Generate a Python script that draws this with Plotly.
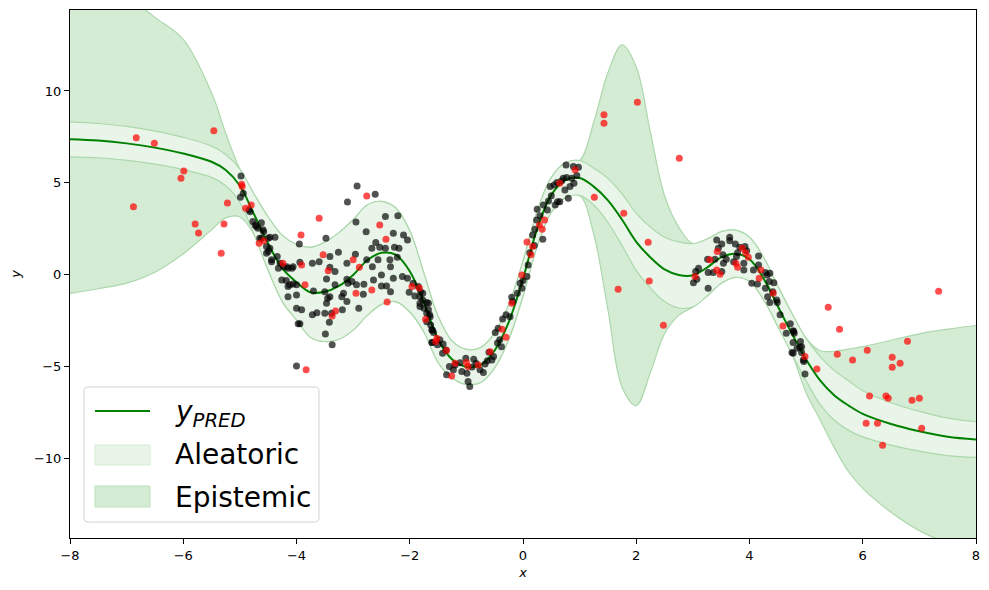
import numpy as np
import plotly.graph_objects as go

# prediction grid
x_grid = [-8, -7.5, -7, -6.5, -6, -5.5, -5.25, -5, -4.75, -4.5, -4.25, -4, -3.75, -3.5,
          -3.25, -3, -2.75, -2.5, -2.25, -2, -1.75, -1.5, -1.25, -1, -0.75, -0.5, -0.25,
          0, 0.25, 0.5, 0.75, 1, 1.25, 1.5, 1.75, 2, 2.25, 2.5, 2.75, 3, 3.25, 3.5, 3.75,
          4, 4.25, 4.5, 4.75, 5, 5.25, 5.5, 5.75, 6, 6.5, 7, 7.5, 8]
y_pred = [7.37, 7.3, 7.15, 6.92, 6.6, 6.15, 5.7, 4.85, 3.3, 1.7, 0.35, -0.4, -0.95, -0.92,
          -0.6, 0.0, 0.8, 1.2, 1.1, 0.2, -1.5, -3.5, -4.6, -5.0, -4.9, -4.1, -2.55,
          -0.2, 2.5, 4.35, 5.15, 5.27, 4.8, 4.05, 3.0, 1.8, 0.95, 0.3, 0.0, -0.02, 0.4, 0.95, 1.15,
          0.85, -0.2, -1.7, -3.2, -4.6, -5.75, -6.55, -7.1, -7.55, -8.1, -8.5, -8.8, -8.95]
# aleatoric half width
alea = [0.95, 0.93, 0.92, 0.9, 0.88, 0.85, 0.85, 0.9, 1.1, 1.45, 1.8, 2.05, 2.45, 2.7,
        2.9, 3.0, 3.0, 2.8, 2.55, 2.2, 1.6, 1.25, 1.0, 0.95, 0.95, 0.95, 0.95,
        0.95, 0.95, 0.95, 0.95, 0.95, 1.0, 1.2, 1.4, 1.55, 1.65, 1.75, 1.8, 1.72, 1.55, 1.4, 1.28,
        1.2, 1.15, 1.1, 1.1, 1.15, 1.3, 1.35, 1.35, 1.25, 1.15, 1.08, 1.02, 0.97]
# epistemic band edges (None = same as aleatoric edge)
N = None
epi_hi = [17.5, 16.4, 15.2, 14.0, 12.8, 9.9, 7.7, 5.75, N, N, N, N, N, N,
          N, N, N, N, N, N, N, N, N, N, N, N, N,
          N, N, N, N, N, 8.3, 11.0, 12.5, 11.3, 7.75, 4.3, 2.6, N, N, N, N,
          N, N, N, N, N, -4.12, -4.15, -4.03, -3.9, -3.55, -3.2, -2.95, -2.75]
epi_lo = [-1.0, -0.75, -0.45, 0.15, 1.15, 2.45, 3.1, 3.15, N, N, N, N, N, N,
          N, N, N, N, N, N, N, N, N, N, N, N, N,
          N, N, N, N, N, 2.2, -1.9, -6.1, -7.1, -5.3, -3.2, -2.2, N, N, N, N,
          N, N, N, N, -6.4, -7.9, -9.4, -10.7, -11.6, -12.9, -13.9, -14.6, -15.3]

# training points (black)
black_x = [-4.98, -4.94, -4.99, -4.84, -4.82, -4.77, -4.73, -4.71, -4.68, -4.62, -4.59, -4.58, -4.65, -4.62,
           -4.5, -4.47, -4.38, -4.53, -4.5, -4.53, -4.47, -4.44, -4.44, -4.34, -4.29, -4.32, -4.23, -4.17,
           -4.15, -4.08, -4.06, -4.26, -4.18, -4.12, -4.06, -4.15, -4.0, -4.15, -4.0, -4.0, -3.91, -3.97,
           -3.94, -3.95, -3.94, -3.72, -3.6, -3.41, -3.26, -3.48, -3.41, -3.32, -3.47, -3.7, -3.5, -3.32,
           -3.41, -3.47, -3.45, -3.38, -3.42, -3.5, -3.72, -3.64, -3.49, -3.37, -4.0, -3.1, -2.93, -2.61,
           -2.77, -2.95, -2.43, -2.21, -2.29, -2.11, -2.04, -2.6, -2.67, -2.53, -2.43, -2.27, -2.19, -2.96,
           -3.11, -2.76, -2.56, -2.66, -2.35, -2.34, -2.22, -3.11, -3.09, -3.02, -2.94, -3.17, -3.2, -3.11,
           -2.9, -3.19, -2.81, -2.82, -2.64, -2.5, -2.5, -2.41, -2.29, -2.34, -2.13, -2.04, -2.01, -1.94,
           -1.85, -1.81, -1.82, -1.77, -1.82, -1.75, -1.67, -1.7, -1.64, -1.63, -1.6, -1.61, -1.51, -1.91,
           -1.82, -1.77, -1.7, -1.67, -1.65, -1.7, -1.61, -1.58,
           -1.47, -1.6, -1.41, -1.36, -1.42, -1.35, -1.3, -1.23, -1.11, -1.08, -1.01, -0.99, -0.97, -0.94,
           -0.87, -0.83, -0.76, -0.67, -0.63, -0.55, -0.52, -0.49, -0.44, -0.41, -0.38, -0.36, -0.3, -0.23,
           -0.2, -0.18, -0.05, -0.02, 0.07, 0.09, 0.17, 0.21, 0.24, 0.25, 0.35, 0.3, 0.36, 0.43, 0.45,
           0.48, 0.55, 0.6, 0.61, 0.57, 0.65, 0.71, 0.77, 0.86, 0.9, 0.83, 0.76, 0.89, 0.98, 0.8, 0.74,
           -1.2, -0.9, -0.7, -0.6, -0.45, -0.1, 0.0, 0.12, 0.2, 0.5, 0.68, 0.95,
           3.42, 3.65, 3.65, 3.51, 3.75, 3.83, 3.92, 3.45, 3.95, 3.79, 3.53, 3.77, 3.26, 3.39, 3.59, 3.72,
           3.9, 4.16, 4.16, 3.54, 3.1, 3.05, 3.36, 3.27, 3.51, 3.9, 4.07, 4.28, 4.31, 4.36, 3.01, 3.07,
           3.27, 4.04, 4.14, 4.35, 4.43, 4.28, 4.32, 4.41, 4.48, 4.36, 4.49, 4.54, 4.72, 4.77, 4.65, 4.79,
           4.77, 4.9, 4.92, 4.84, 4.77, 4.92, 4.96, 4.98, 4.78, 4.75, 4.89, 4.95]
black_y = [5.38, 4.44, 4.22, 3.53, 3.44, 2.9, 2.72, 2.63, 2.54, 2.84, 2.45, 2.35, 1.99, 1.99,
           1.99, 2.05, 2.05, 1.54, 1.27, 1.18, 1.45, 0.82, 0.72, 1.0, 0.63, 0.36, 0.45, 0.45,
           0.36, 0.36, 0.45, -0.27, -0.3, -0.54, -0.49, -0.63, -0.54, -1.18, -1.09, -1.81, -1.9, -2.66,
           -2.66, 1.68, 0.69, 0.63, 0.72, 1.0, 1.23, 1.99, 0.42, 0.18, -0.22, -0.87, -0.91, -0.54,
           -1.18, -1.54, -1.27, -2.08, -2.57, -2.08, -2.17, -2.05, -3.21, -3.8, -4.95, 3.97, 4.84, 4.38,
           2.34, 2.88, 3.17, 3.21, 2.27, 2.17, 1.9, 1.76, 1.45, 1.5, 1.45, 1.5, 1.45, 1.12,
           0.63, 0.82, 0.82, 0.45, 0.82, 0.45, 0.96, -0.24, -0.45, -0.36, -0.54, -1.0, -1.18, -1.45,
           -1.81, -1.9, -0.51, -1.05, -0.27, 0.0, -0.6, -0.6, -0.18, -0.91, -0.09, -0.18, -0.94, -0.45,
           -0.63, -0.91, -1.18, -1.36, -1.72, -1.81, -1.54, -2.08, -2.27, -2.72, -2.99, -3.68, -3.8, -1.14,
           -1.54, -1.0, -1.5, -1.9, -2.17, -2.54, -2.99, -3.13,
           -3.53, -3.68, -3.75, -4.08, -4.26, -5.43, -4.98, -5.16, -4.77, -5.25, -4.53, -5.34, -5.8, -6.07,
           -4.58, -4.8, -5.16, -4.84, -4.66, -4.62, -4.44, -3.13, -2.9, -3.53, -3.9, -2.39, -2.17, -2.27,
           -1.21, -1.45, -0.45, -0.72, -0.09, 0.54, 2.17, 2.48, 2.99, 3.57, 1.94, 3.21, 3.8, 3.53, 4.02,
           4.8, 4.89, 5.02, 3.98, 3.8, 3.98, 5.25, 5.3, 5.25, 4.98, 4.8, 5.98, 5.89, 5.85, 4.17, 4.62,
           -4.9, -5.0, -5.3, -4.2, -3.7, -1.0, -0.3, 1.2, 1.6, 4.3, 5.1, 5.4,
           1.9, 2.05, 1.86, 1.68, 1.68, 1.5, 1.54, 1.45, 1.32, 1.21, 1.09, 1.0, 0.85, 0.85, 0.85, 0.72,
           0.63, 1.03, 0.54, 0.63, 0.36, 0.18, 0.13, 0.13, 0.18, 0.27, 0.27, 0.13, 0.0, 0.09, -0.42, -0.24,
           -0.72, -0.45, -0.49, -0.36, -0.42, -0.72, -1.18, -0.91, -1.36, -1.5, -1.5, -2.17, -2.66, -3.03, -3.17, -3.17,
           -3.68, -3.62, -3.9, -3.99, -4.26, -4.22, -4.71, -5.38, -3.08, -4.22, -3.93, -4.62]

# red points
red_x = [-6.83, -6.51, -5.46, -5.99, -6.04, -6.88, -5.22, -5.79, -5.73, -5.28, -5.33, -4.97, -4.96, -4.8,
         -4.9, -4.66, -4.58, -3.6, -3.92, -3.91, -4.24, -3.53, -3.44, -3.85, -2.76, -2.53, -2.42, -3.0,
         -2.89, -2.95, -2.67, -2.4, -3.31, -3.37, -1.96, -1.83, -1.72, -1.54, -1.52, -3.83, -1.35, -1.26,
         -1.2, -1.0, -0.97, -0.79, -0.58, -0.37, -0.3, -0.2, -0.02, 0.07, 0.14, 0.17, 0.34, 0.38, 0.29,
         0.65, 0.92, 1.26, 1.78, 1.68, 1.43, 1.43, 2.02, 2.76, 2.21, 2.23, 2.48, 3.04, 3.3, 3.43, 3.42,
         3.48, 3.87, 3.93, 3.98, 3.76, 3.79, 4.2, 4.17, 4.42, 4.59, 4.98, 5.19, 5.39, 5.59, 5.55, 5.82,
         6.08, 6.52, 6.52, 6.66, 6.79, 7.34, 6.12, 6.41, 6.45, 6.87, 7.0, 6.06, 6.26, 7.04, 6.35]
red_y = [7.45, 7.16, 7.83, 5.65, 5.25, 3.7, 3.91, 2.77, 2.28, 2.77, 1.18, 4.93, 4.8, 3.8,
         3.62, 1.72, 1.86, 3.08, 2.17, 0.54, 0.63, 1.09, 0.22, -0.54, 4.29, 2.72, 1.94, 0.82,
         0.42, -1.0, -0.82, -1.47, -1.96, -2.23, -0.63, -0.71, -2.41, -3.62, -3.44, -5.16, -4.11, -5.49,
         -4.8, -4.76, -4.98, -4.89, -4.17, -2.95, -3.39, -1.54, 0.0, 1.79, 1.09, 1.54, 2.48, 2.99, 2.72,
         4.98, 5.71, 4.22, 3.35, -0.78, 8.7, 8.24, 9.38, 6.34, 1.78, -0.33, -2.74, -0.09, 0.82, 1.27, 0.27,
         0.04, 1.45, 1.21, 0.96, 0.63, 0.42, 0.27, -0.18, -1.0, -2.77, -4.44, -5.11, -1.76, -2.95, -4.31, -4.62,
         -4.09, -4.47, -5.02, -4.8, -3.6, -0.89, -6.58, -6.58, -6.7, -6.81, -6.7, -8.06, -8.06, -8.33, -9.26]

legend_labels = ["<i>y</i><sub><i>PRED</i></sub>", "Aleatoric", "Epistemic"]

xg = np.array(x_grid)
mu = np.array(y_pred)
a = np.array(alea)
a_hi = mu + a
a_lo = mu - a
e_hi = np.array([np.nan if v is None else v for v in epi_hi])
e_lo = np.array([np.nan if v is None else v for v in epi_lo])
e_hi = np.maximum(np.where(np.isnan(e_hi), a_hi, e_hi), a_hi)
e_lo = np.minimum(np.where(np.isnan(e_lo), a_lo, e_lo), a_lo)

edge = "rgb(172,216,172)"
epi_fill = "rgb(212,235,212)"
alea_fill = "rgb(232,245,232)"
font = "DejaVu Sans"

fig = go.Figure()
fig.add_trace(go.Scatter(x=xg, y=e_lo, mode="lines", line=dict(color=edge, width=1.2, shape="spline"),
                         showlegend=False, hoverinfo="skip"))
fig.add_trace(go.Scatter(x=xg, y=e_hi, mode="lines", line=dict(color=edge, width=1.2, shape="spline"),
                         fill="tonexty", fillcolor=epi_fill, name="Epistemic", showlegend=False))
fig.add_trace(go.Scatter(x=xg, y=a_lo, mode="lines", line=dict(color=edge, width=1.2, shape="spline"),
                         showlegend=False, hoverinfo="skip"))
fig.add_trace(go.Scatter(x=xg, y=a_hi, mode="lines", line=dict(color=edge, width=1.2, shape="spline"),
                         fill="tonexty", fillcolor=alea_fill, name="Aleatoric", showlegend=False))
fig.add_trace(go.Scatter(x=xg, y=mu, mode="lines", line=dict(color="green", width=2, shape="spline"),
                         name="y_PRED", showlegend=False))
fig.add_trace(go.Scatter(x=black_x, y=black_y, mode="markers", showlegend=False,
                         marker=dict(color="rgba(0,0,0,0.68)", size=7, line=dict(width=0))))
fig.add_trace(go.Scatter(x=red_x, y=red_y, mode="markers", showlegend=False,
                         marker=dict(color="rgba(255,0,0,0.7)", size=7, line=dict(width=0))))

# legend drawn as a framed box in paper space (matplotlib style)
x0, x1, y0, y1 = 0.0155, 0.2748, 0.0303, 0.286
rx, ry = 0.0045, 0.0078
box = (f"M{x0+rx},{y0} L{x1-rx},{y0} Q{x1},{y0} {x1},{y0+ry} L{x1},{y1-ry} Q{x1},{y1} {x1-rx},{y1} "
       f"L{x0+rx},{y1} Q{x0},{y1} {x0},{y1-ry} L{x0},{y0+ry} Q{x0},{y0} {x0+rx},{y0} Z")
fig.add_shape(type="path", path=box, xref="paper", yref="paper",
              line=dict(color="rgb(210,210,210)", width=1), fillcolor="rgba(255,255,255,0.8)")
fig.add_shape(type="line", xref="paper", yref="paper", x0=0.0276, x1=0.0883, y0=0.2405, y1=0.2405,
              line=dict(color="green", width=2))
fig.add_shape(type="rect", xref="paper", yref="paper", x0=0.0276, x1=0.0883, y0=0.1383, y1=0.1761,
              line=dict(color="rgb(214,236,214)", width=1), fillcolor=alea_fill)
fig.add_shape(type="rect", xref="paper", yref="paper", x0=0.0276, x1=0.0883, y0=0.0587, y1=0.0985,
              line=dict(color="rgb(190,225,190)", width=1), fillcolor=epi_fill)
for label, ly in zip(legend_labels, [0.2367, 0.1572, 0.0775]):
    fig.add_annotation(x=0.1137, y=ly, xref="paper", yref="paper", text=label, showarrow=False,
                       xanchor="left", yanchor="middle",
                       font=dict(family=font, size=28, color="black"))

axis = dict(showgrid=False, zeroline=False, showline=True, linecolor="black", linewidth=1,
            mirror=True, ticks="outside", ticklen=5, tickwidth=1, tickcolor="black",
            tickfont=dict(family=font, size=13, color="black"))
fig.update_xaxes(range=[-8, 8], tickvals=[-8, -6, -4, -2, 0, 2, 4, 6, 8],
                 title=dict(text="<i>x</i>", font=dict(family=font, size=13, color="black"), standoff=6),
                 **axis)
fig.update_yaxes(range=[-14.3, 14.4], tickvals=[-10, -5, 0, 5, 10],
                 title=dict(text="<i>y</i>", font=dict(family=font, size=13, color="black"), standoff=10),
                 **axis)
# page body adds 8px around the figure
fig.update_layout(
    width=989, height=590, margin=dict(l=62, r=21, t=2, b=60),
    plot_bgcolor="white", paper_bgcolor="white", showlegend=False,
)
fig.write_html("out.html")
